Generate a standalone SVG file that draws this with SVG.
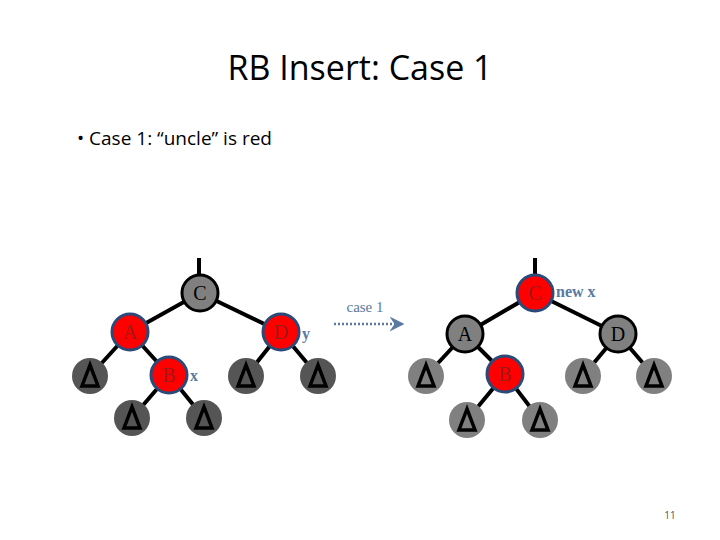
<svg xmlns="http://www.w3.org/2000/svg" width="720" height="540" viewBox="0 0 720 540">
<defs>
<style>
.e{stroke:#000;stroke-width:4}
.red{fill:#f00;stroke:#2a4a7a;stroke-width:3}
.gray{fill:#808080;stroke:#000;stroke-width:3}
.lt{font-family:"Liberation Serif",serif;font-size:20px;text-anchor:middle}
.rl{fill:#a01818}
.lf1{fill:#555}
.lf2{fill:#808080}
.tri{fill:none;stroke:#000;stroke-width:3.5}
.lab{font-family:"Liberation Serif",serif;font-size:16px;font-weight:bold;fill:#5a7aa0}
</style>
<marker id="ah" markerWidth="6" markerHeight="6" refX="3" refY="3" orient="auto"><path d="M0,0 L6,3 L0,6 L2,3 Z" fill="#5a7aa0"/></marker>
</defs>
<rect width="720" height="540" fill="#fff"/>
<text x="360" y="80" font-family="Open Sans, sans-serif" font-size="34" text-anchor="middle">RB Insert: Case 1</text>
<text x="77" y="145" font-family="Open Sans, sans-serif" font-size="19">•  Case 1: “uncle” is red</text>
<g id="connectors">
<path class="e" d="M199,258V293M200,293L130,332M200,293L281,332M130,332L90,376M130,332L169,375M169,375L132,418M169,375L204,418M281,332L246,376M281,332L318,376"/>
<path class="e" d="M535,258V293M535,293L465,334M535,293L618,334M465,334L426,376M465,334L505,374M505,374L467,420M505,374L540,420M618,334L583,376M618,334L654,376"/>
<line x1="334" y1="324" x2="397" y2="324" stroke="#5a7aa0" stroke-width="2.5" stroke-dasharray="2,2" marker-end="url(#ah)"/>
</g>
<g id="leavesL">
<circle class="lf1" cx="90" cy="376" r="18"/><path class="tri" d="M90,365L82,386H98Z"/>
<circle class="lf1" cx="132" cy="418" r="18"/><path class="tri" d="M132,407L124,428H140Z"/>
<circle class="lf1" cx="204" cy="418" r="18"/><path class="tri" d="M204,407L196,428H212Z"/>
<circle class="lf1" cx="246" cy="376" r="18"/><path class="tri" d="M246,365L238,386H254Z"/>
<circle class="lf1" cx="318" cy="376" r="18"/><path class="tri" d="M318,365L310,386H326Z"/>
</g>
<g id="leavesR">
<circle class="lf2" cx="426" cy="376" r="18"/><path class="tri" d="M426,365L418,386H434Z"/>
<circle class="lf2" cx="467" cy="420" r="18"/><path class="tri" d="M467,409L459,430H475Z"/>
<circle class="lf2" cx="540" cy="420" r="18"/><path class="tri" d="M540,409L532,430H548Z"/>
<circle class="lf2" cx="583" cy="376" r="18"/><path class="tri" d="M583,365L575,386H591Z"/>
<circle class="lf2" cx="654" cy="376" r="18"/><path class="tri" d="M654,365L646,386H662Z"/>
</g>
<g id="L-C"><circle class="gray" cx="200" cy="293" r="18"/><text class="lt" x="200" y="300">C</text></g>
<g id="L-A"><circle class="red" cx="130" cy="332" r="18"/><text class="lt rl" x="130" y="339">A</text></g>
<g id="L-D"><circle class="red" cx="281" cy="332" r="18"/><text class="lt rl" x="281" y="339">D</text><text class="lab" x="302" y="339">y</text></g>
<g id="L-B"><circle class="red" cx="169" cy="375" r="18"/><text class="lt rl" x="169" y="382">B</text><text class="lab" x="190" y="381">x</text></g>
<g id="case"><text x="365" y="312" font-family="Liberation Serif, serif" font-size="15" fill="#5a7aa0" text-anchor="middle">case 1</text></g>
<g id="R-C"><circle class="red" cx="535" cy="293" r="18"/><text class="lt rl" x="535" y="300">C</text><text class="lab" x="556" y="297">new x</text></g>
<g id="R-A"><circle class="gray" cx="465" cy="334" r="18"/><text class="lt" x="465" y="341">A</text></g>
<g id="R-D"><circle class="gray" cx="618" cy="334" r="18"/><text class="lt" x="618" y="341">D</text></g>
<g id="R-B"><circle class="red" cx="505" cy="374" r="18"/><text class="lt rl" x="505" y="381">B</text></g>
<text x="670" y="519" font-family="Open Sans, sans-serif" font-size="10" fill="#555" text-anchor="middle">11</text>
</svg>
